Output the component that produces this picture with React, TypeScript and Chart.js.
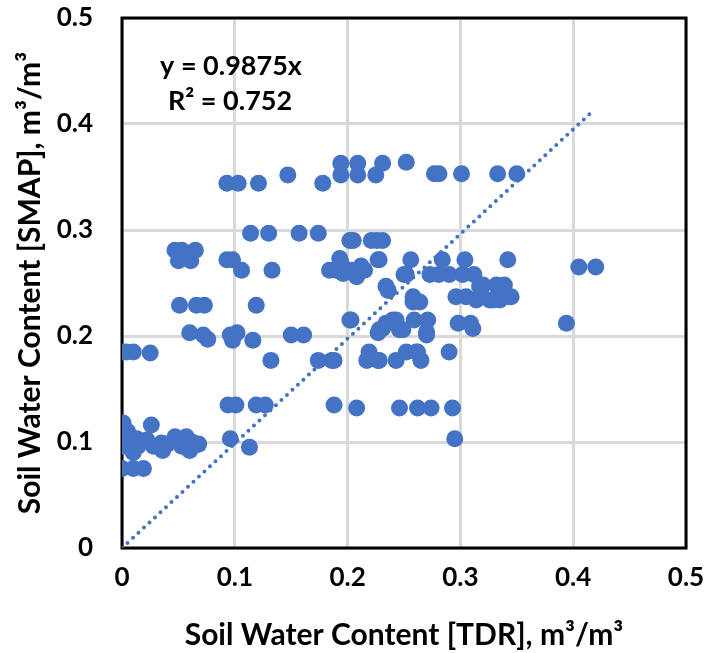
import React, { useEffect, useRef } from "react";
import { Chart, registerables } from "chart.js";

Chart.register(...registerables);

// TDR (x) values
const tdrValues: number[] = [
  0.093, 0.103, 0.121, 0.147, 0.178, 0.194, 0.194, 0.209, 0.209, 0.225, 0.231, 0.252, 0.277, 0.281, 0.301, 0.333, 0.35,
  0.114, 0.13, 0.157, 0.174, 0.202, 0.205, 0.221, 0.226, 0.231,
  0.047, 0.053, 0.065, 0.05, 0.061, 0.056, 0.093, 0.098, 0.106, 0.133,
  0.051, 0.066, 0.073, 0.119,
  0.06, 0.072, 0.076, 0.096, 0.098, 0.102, 0.116, 0.15, 0.161,
  0.0, 0.004, 0.01, 0.025,
  0.132, 0.174, 0.186, 0.188,
  0.094, 0.101, 0.119, 0.127, 0.188, 0.208, 0.246, 0.262, 0.274, 0.293, 0.295,
  0.001, 0.026, 0.001, 0.001, 0.005, 0.013, 0.014, 0.01, 0.022, 0.028, 0.035, 0.036, 0.04, 0.047, 0.053, 0.057, 0.06, 0.062, 0.065, 0.068,
  0.0, 0.01, 0.019, 0.096, 0.113,
  0.184, 0.19, 0.193, 0.194, 0.196, 0.203, 0.208, 0.215, 0.212, 0.227, 0.228, 0.234, 0.236, 0.25, 0.252, 0.256, 0.258, 0.264, 0.258,
  0.273, 0.281, 0.284, 0.29, 0.302, 0.304, 0.312, 0.317, 0.32, 0.332, 0.339, 0.342,
  0.296, 0.305, 0.314, 0.317, 0.326, 0.329, 0.335, 0.343, 0.345, 0.298, 0.309, 0.311,
  0.202, 0.203, 0.234, 0.228, 0.231, 0.227, 0.24, 0.243, 0.249, 0.259, 0.271, 0.27, 0.27, 0.246,
  0.219, 0.217, 0.227, 0.228, 0.243, 0.252, 0.261, 0.262, 0.265, 0.29,
  0.394, 0.405, 0.42,
];

// SMAP (y) values
const smapValues: number[] = [
  0.344, 0.344, 0.344, 0.352, 0.344, 0.363, 0.352, 0.363, 0.352, 0.352, 0.363, 0.364, 0.353, 0.353, 0.353, 0.353, 0.353,
  0.297, 0.297, 0.297, 0.297, 0.29, 0.29, 0.29, 0.29, 0.29,
  0.281, 0.281, 0.281, 0.271, 0.271, 0.276, 0.272, 0.272, 0.262, 0.262,
  0.229, 0.229, 0.229, 0.229,
  0.203, 0.201, 0.197, 0.201, 0.196, 0.203, 0.196, 0.201, 0.201,
  0.185, 0.185, 0.185, 0.184,
  0.177, 0.177, 0.177, 0.177,
  0.135, 0.135, 0.135, 0.135, 0.135, 0.132, 0.132, 0.132, 0.132, 0.132, 0.103,
  0.118, 0.116, 0.105, 0.096, 0.11, 0.103, 0.096, 0.09, 0.102, 0.096, 0.099, 0.092, 0.098, 0.105, 0.096, 0.105, 0.092, 0.1, 0.097, 0.098,
  0.075, 0.075, 0.075, 0.103, 0.095,
  0.262, 0.262, 0.273, 0.27, 0.259, 0.262, 0.256, 0.262, 0.266, 0.272, 0.272, 0.247, 0.243, 0.258, 0.258, 0.272, 0.237, 0.232, 0.232,
  0.258, 0.258, 0.272, 0.258, 0.258, 0.272, 0.258, 0.247, 0.248, 0.248, 0.248, 0.272,
  0.237, 0.237, 0.234, 0.237, 0.234, 0.234, 0.234, 0.237, 0.237, 0.212, 0.212, 0.207,
  0.215, 0.215, 0.212, 0.206, 0.207, 0.203, 0.215, 0.215, 0.206, 0.215, 0.215, 0.204, 0.201, 0.206,
  0.185, 0.177, 0.177, 0.177, 0.177, 0.185, 0.185, 0.185, 0.177, 0.185,
  0.212, 0.265, 0.265,
];

const trendSlope = 0.9875;
const trendX: number[] = [0, 0.416];
const equationText = "y = 0.9875x";
const r2Text = "R² = 0.752";
const axisTicks: number[] = [0, 0.1, 0.2, 0.3, 0.4, 0.5];
const xTitle = "Soil Water Content [TDR], m³/m³";
const yTitle = "Soil Water Content [SMAP], m³/m³";

const FONT = "Lato, 'Open Sans', sans-serif";

export default function App() {
  const ref = useRef<HTMLCanvasElement>(null);
  useEffect(() => {
    document.body.style.margin = "0";
    const canvas = ref.current!;
    const points = tdrValues.map((x, i) => ({ x, y: smapValues[i] }));
    const trend = trendX.map((x) => ({ x, y: x * trendSlope }));

    const overlay = {
      id: "overlay",
      beforeDatasetsDraw(chart: any) {
        const { ctx, chartArea } = chart;
        ctx.save();
        ctx.strokeStyle = "#000";
        ctx.lineWidth = 3;
        ctx.strokeRect(chartArea.left, chartArea.top, chartArea.right - chartArea.left, chartArea.bottom - chartArea.top);
        ctx.restore();
      },
      afterDraw(chart: any) {
        const { ctx } = chart;
        ctx.save();
        ctx.fillStyle = "#000";
        ctx.font = `bold 27px ${FONT}`;
        ctx.textAlign = "center";
        ctx.textBaseline = "middle";
        ctx.fillText(equationText, 231, 66);
        ctx.fillText(r2Text, 230, 101);
        ctx.restore();
      },
    };

    const chart = new Chart(canvas, {
      type: "scatter",
      data: {
        datasets: [
          {
            label: "trend",
            type: "line",
            data: trend,
            borderColor: "#4472C4",
            borderWidth: 4,
            borderDash: [0, 7.5],
            borderCapStyle: "round",
            pointRadius: 0,
            fill: false,
          } as any,
          {
            label: "data",
            data: points,
            backgroundColor: "#4472C4",
            borderColor: "#4472C4",
            pointRadius: 8.5,
            borderWidth: 0,
          },
        ],
      },
      options: {
        animation: false,
        responsive: false,
        layout: { padding: { left: 0, top: 18, right: 22, bottom: 0 } },
        plugins: { legend: { display: false }, tooltip: { enabled: false } },
        scales: {
          x: {
            type: "linear",
            min: 0,
            max: 0.5,
            afterBuildTicks(scale: any) {
              scale.ticks = axisTicks.map((v) => ({ value: v }));
            },
            afterFit(scale: any) {
              scale.height = 105;
              scale.paddingLeft = 0;
              scale.paddingRight = 0;
            },
            grid: { color: "#d9d9d9", lineWidth: 3, drawTicks: false },
            border: { display: false },
            ticks: {
              padding: 14,
              color: "#000",
              font: { family: FONT, size: 26, weight: "bold" },
              callback: (v: any) => String(v),
            },
            title: {
              display: true,
              text: xTitle,
              color: "#000",
              font: { family: FONT, size: 30, weight: "bold" },
              padding: { top: 0, bottom: 0 },
            },
          },
          y: {
            type: "linear",
            min: 0,
            max: 0.5,
            afterBuildTicks(scale: any) {
              scale.ticks = axisTicks.map((v) => ({ value: v }));
            },
            afterFit(scale: any) {
              scale.width = 122;
              scale.paddingTop = 0;
              scale.paddingBottom = 0;
            },
            grid: { color: "#d9d9d9", lineWidth: 3, drawTicks: false },
            border: { display: false },
            ticks: {
              padding: 29,
              color: "#000",
              font: { family: FONT, size: 26, weight: "bold" },
              callback: (v: any) => String(v),
            },
            title: {
              display: true,
              text: yTitle,
              color: "#000",
              font: { family: FONT, size: 30, weight: "bold" },
              padding: { top: 12, bottom: 0 },
            },
          },
        },
      },
      plugins: [overlay],
    } as any);
    return () => chart.destroy();
  }, []);
  return <canvas ref={ref} width={708} height={653} style={{ display: "block" }} />;
}
